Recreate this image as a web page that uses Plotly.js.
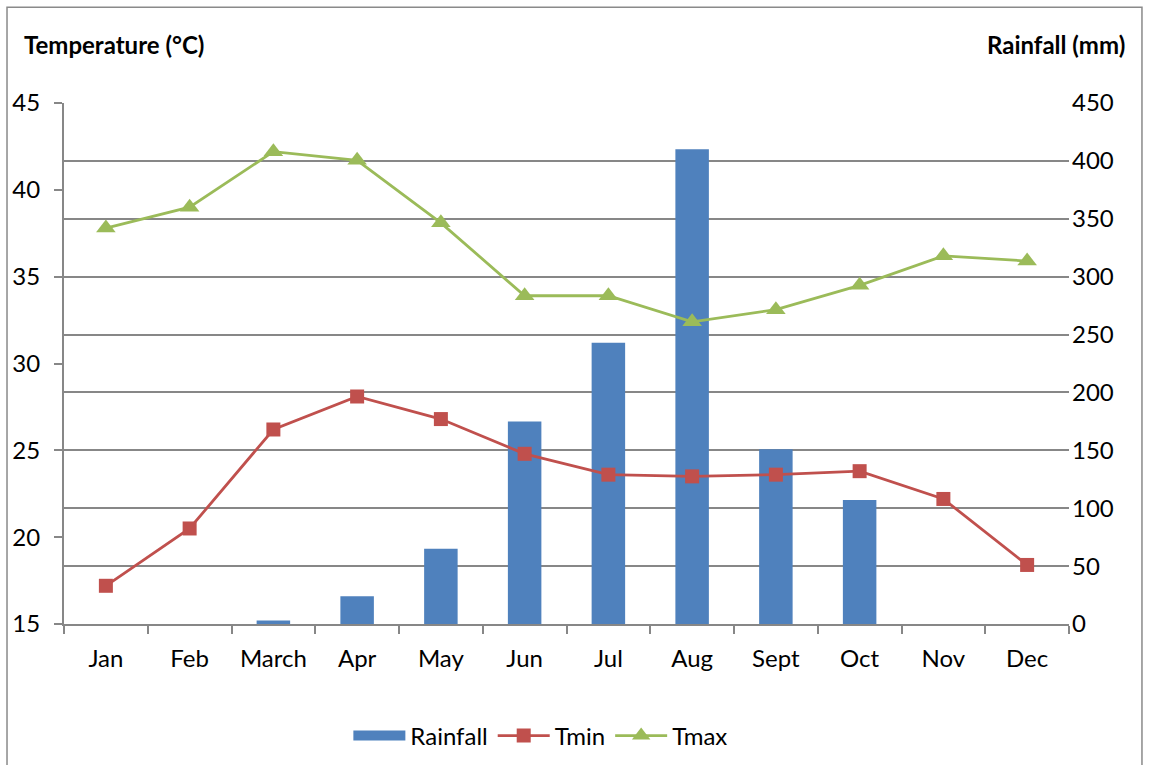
<!DOCTYPE html>
<html>
<head>
<meta charset="utf-8">
<script src="https://cdn.plot.ly/plotly-3.0.1.min.js"></script>
<style>html,body{margin:0;padding:0;background:#fff;}#chart{width:1149px;height:765px;}</style>
</head>
<body>
<div id="chart"></div>
<script>
const months = ["Jan","Feb","March","Apr","May","Jun","Jul","Aug","Sept","Oct","Nov","Dec"];
const rainfall = [0, 0, 3, 24, 65, 175, 243, 410, 151, 107, 0, 0];
const tmin = [17.2, 20.5, 26.2, 28.1, 26.8, 24.8, 23.6, 23.5, 23.6, 23.8, 22.2, 18.4];
const tmax = [37.8, 39.0, 42.2, 41.7, 38.1, 33.9, 33.9, 32.4, 33.1, 34.5, 36.2, 35.9];
const tempTicks = [15, 20, 25, 30, 35, 40, 45];
const rainTicks = [0, 50, 100, 150, 200, 250, 300, 350, 400, 450];

const font = {family: "Lato, 'Liberation Sans', sans-serif", size: 24, color: "#000"};
const grid = "#878787";
const rainColor = "#4F81BD";

const traces = [
  {type: "bar", name: "Rainfall", x: months, y: rainfall, yaxis: "y",
   marker: {color: rainColor}, showlegend: false, legendgroup: "rain"},
  {type: "scatter", mode: "lines", name: "Rainfall", x: [null], y: [null], yaxis: "y",
   line: {color: rainColor, width: 20}, legendgroup: "rain", hoverinfo: "skip"},
  {type: "scatter", mode: "lines+markers", name: "Tmin", x: months, y: tmin, yaxis: "y2",
   line: {color: "#C0504D", width: 2.8},
   marker: {symbol: "square", size: 14, color: "#C0504D"}},
  {type: "scatter", mode: "lines+markers", name: "Tmax", x: months, y: tmax, yaxis: "y2",
   line: {color: "#9BBB59", width: 2.8},
   marker: {symbol: "triangle-up", size: 17, color: "#9BBB59"}}
];

const layout = {
  width: 1149, height: 765,
  margin: {l: 64, r: 80, t: 103, b: 141},
  paper_bgcolor: "#fff", plot_bgcolor: "#fff",
  font: font,
  bargap: 0.6,
  showlegend: true,
  legend: {orientation: "h", x: 0.474, xanchor: "center", yref: "container", y: 0.038,
           yanchor: "middle", font: font, traceorder: "normal", itemwidth: 52},
  xaxis: {type: "category", range: [-0.5, 11.5], autorange: false, showline: true,
          linecolor: grid, linewidth: 2,
          ticks: "outside", tickson: "boundaries", ticklen: 8, tickcolor: grid, tickwidth: 2,
          showgrid: false, tickfont: font, zeroline: false, automargin: false,
          ticklabelstandoff: 12},
  yaxis: {side: "right", range: [0, 450], autorange: false, tickvals: rainTicks, showline: false,
          ticks: "", showgrid: true, gridcolor: grid, gridwidth: 2, zeroline: false,
          tickfont: font, ticklabelstandoff: 2, automargin: false},
  yaxis2: {overlaying: "y", side: "left", range: [15, 45], autorange: false, tickvals: tempTicks,
           showline: true, linecolor: grid, linewidth: 2, ticks: "outside", ticklen: 8,
           tickcolor: grid, tickwidth: 2, showgrid: false, zeroline: false, tickfont: font,
           ticklabelstandoff: 9, automargin: false},
  annotations: [
    {text: "<b>Temperature (°C)</b>", xref: "paper", yref: "paper", x: -0.0418, y: 1.113,
     xanchor: "left", yanchor: "middle", showarrow: false, font: font},
    {text: "<b>Rainfall (mm)</b>", xref: "paper", yref: "paper", x: 1.0577, y: 1.113,
     xanchor: "right", yanchor: "middle", showarrow: false, font: font}
  ],
  shapes: [
    {type: "rect", xref: "paper", yref: "paper", x0: -0.0567, x1: 1.0726, y0: -0.4, y1: 1.184,
     line: {color: "#8a8a8a", width: 1.5}, fillcolor: "rgba(0,0,0,0)", layer: "below"}
  ]
};

Plotly.newPlot("chart", traces, layout, {displayModeBar: false, staticPlot: true});
</script>
</body>
</html>
